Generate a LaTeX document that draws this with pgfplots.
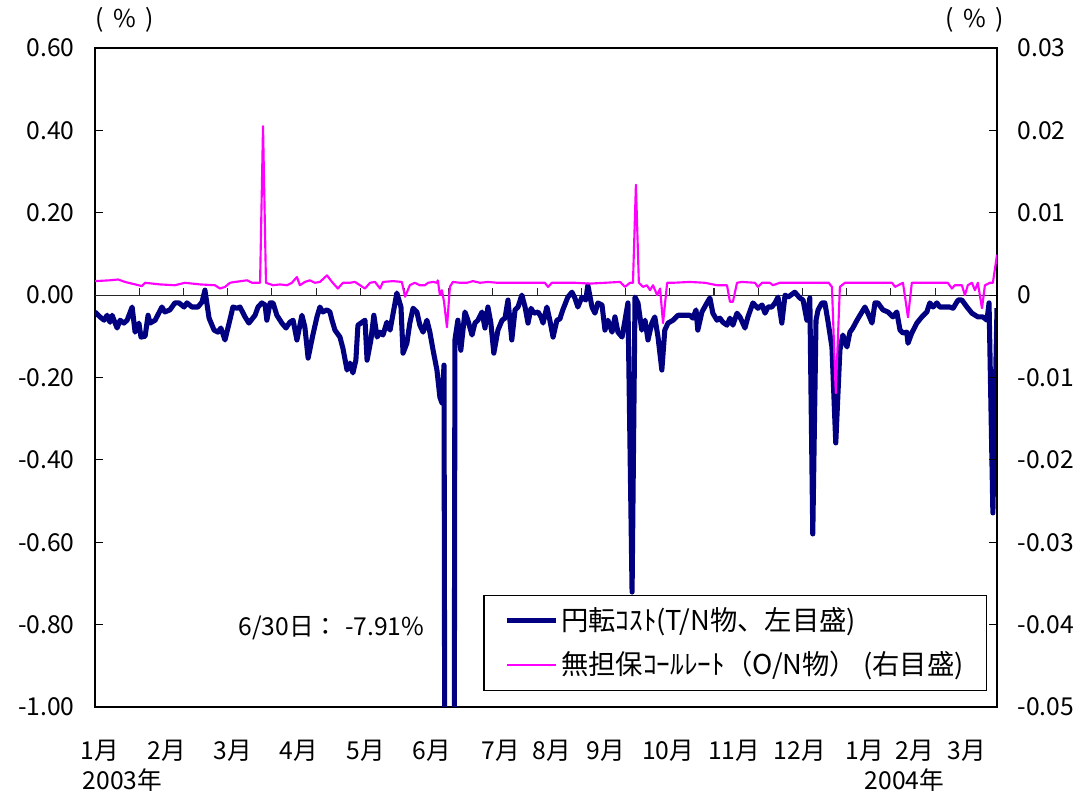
\documentclass[border=0pt]{standalone}
\usepackage{pgfplots}
\pgfplotsset{compat=1.18}
\usepackage{pgfplotstable}
\usepackage{fontspec}
\setmainfont{Noto Sans CJK JP}
\definecolor{navyc}{RGB}{0,0,128}
\definecolor{magc}{RGB}{255,0,255}
\pgfplotstableread{
x y
0 -0.041
1.7 -0.053
3.1 -0.061
4.1 -0.049
5.1 -0.066
5.8 -0.049
7.5 -0.080
8.5 -0.061
9.8 -0.068
10.9 -0.061
12.6 -0.029
13.6 -0.090
14.9 -0.068
15.6 -0.102
17.0 -0.100
18.0 -0.049
18.7 -0.068
20.4 -0.061
22.7 -0.029
23.7 -0.041
25.4 -0.036
27.1 -0.019
28.5 -0.019
30.2 -0.029
31.2 -0.019
32.9 -0.029
34.9 -0.029
36.3 -0.017
37.3 0.012
38.7 -0.056
40.4 -0.085
41.7 -0.090
42.7 -0.080
44.1 -0.109
45.5 -0.068
46.8 -0.029
48.2 -0.032
49.2 -0.029
50.9 -0.053
52.2 -0.068
54.3 -0.049
55.3 -0.029
56.6 -0.019
57.7 -0.024
58.3 -0.061
59.4 -0.019
60.4 -0.019
61.7 -0.049
63.4 -0.068
64.8 -0.080
66.1 -0.066
67.2 -0.061
68.5 -0.109
70.2 -0.049
71.2 -0.078
72.3 -0.153
73.9 -0.097
75.3 -0.053
76.3 -0.029
77.3 -0.041
78.7 -0.036
79.7 -0.041
80.4 -0.061
81.4 -0.085
83.1 -0.102
84.1 -0.129
85.5 -0.182
86.5 -0.165
87.5 -0.189
88.5 -0.158
89.2 -0.073
90.6 -0.066
91.6 -0.061
92.3 -0.158
93.6 -0.109
94.6 -0.049
95.7 -0.102
96.7 -0.090
97.7 -0.097
99.0 -0.066
100.1 -0.085
102.4 0.005
103.8 -0.029
104.5 -0.141
105.8 -0.117
106.8 -0.068
107.9 -0.032
109.2 -0.041
110.2 -0.073
111.3 -0.090
112.6 -0.061
113.6 -0.090
114.7 -0.134
116.0 -0.182
117.0 -0.248
117.7 -0.262
118.4 -0.170
120.4 -7.91
122.1 -0.109
123.1 -0.061
124.1 -0.134
125.5 -0.041
126.5 -0.061
127.9 -0.097
128.9 -0.068
129.9 -0.061
131.3 -0.041
132.3 -0.080
133.3 -0.029
134.3 -0.068
135.3 -0.141
136.7 -0.085
138.1 -0.061
139.1 -0.056
140.1 -0.012
141.4 -0.109
142.5 -0.036
143.5 -0.029
144.8 0.000
145.9 -0.029
146.9 -0.068
147.9 -0.032
148.9 -0.044
150.3 -0.041
151.3 -0.053
152.0 -0.068
153.3 -0.029
154.3 -0.061
155.4 -0.102
156.7 -0.061
157.7 -0.058
158.7 -0.036
160.4 -0.005
161.8 0.007
162.8 -0.007
163.8 -0.029
165.2 -0.005
166.5 -0.012
167.2 0.024
168.6 -0.029
169.6 -0.044
170.6 -0.019
172.0 -0.024
173.0 -0.085
174.0 -0.061
175.4 -0.090
176.4 -0.053
177.4 -0.090
178.8 -0.102
179.8 -0.061
180.8 -0.019
182.2 -0.721
183.2 -0.005
184.2 -0.019
185.5 -0.085
186.6 -0.061
187.6 -0.109
188.9 -0.068
189.9 -0.053
191.0 -0.102
192.3 -0.182
193.3 -0.085
194.4 -0.068
196.1 -0.061
197.8 -0.049
200.1 -0.049
201.8 -0.049
202.8 -0.056
203.9 -0.036
204.5 -0.085
205.9 -0.041
207.6 -0.019
208.6 -0.007
209.6 -0.044
211.0 -0.061
212.0 -0.056
213.0 -0.066
214.4 -0.073
215.4 -0.056
216.4 -0.073
217.8 -0.044
218.8 -0.053
220.5 -0.080
221.5 -0.053
223.2 -0.019
224.9 -0.032
226.3 -0.024
227.3 -0.044
228.3 -0.029
229.6 -0.029
230.7 -0.019
231.7 -0.005
233.0 -0.068
234.1 0.000
235.1 -0.005
237.4 0.007
239.1 -0.007
240.2 -0.012
241.5 -0.061
242.5 -0.007
243.5 -0.580
244.6 -0.061
245.3 -0.036
246.6 -0.019
247.6 -0.019
248.6 -0.061
250.0 -0.126
251.3 -0.359
252.7 -0.134
253.7 -0.097
255.1 -0.126
256.1 -0.090
257.1 -0.080
258.5 -0.061
259.5 -0.049
261.2 -0.029
262.2 -0.044
263.6 -0.068
264.6 -0.019
265.6 -0.019
267.3 -0.036
269.0 -0.041
270.7 -0.053
272.0 -0.041
273.1 -0.085
274.1 -0.092
275.4 -0.090
275.8 -0.117
277.1 -0.092
278.8 -0.068
280.5 -0.053
282.2 -0.041
283.2 -0.019
284.3 -0.029
285.6 -0.019
286.6 -0.029
288.3 -0.029
290.0 -0.029
291.1 -0.032
292.8 -0.012
294.1 -0.012
295.8 -0.029
297.5 -0.044
299.5 -0.053
301.2 -0.053
302.6 -0.061
303.3 -0.019
304.6 -0.529
306.0 -0.032
}\bluedata
\pgfplotstableread{
x y
0 0.0017
5.1 0.0018
7.8 0.0019
10.2 0.0016
13.6 0.0013
15.9 0.0011
17.0 0.0015
22.0 0.0013
27.1 0.0012
30.5 0.0015
35.6 0.0013
40.7 0.0012
42.4 0.0008
44.1 0.0010
45.8 0.0015
47.5 0.0016
51.6 0.0018
53.3 0.0015
56.0 0.0015
57.0 0.0205
58.0 0.0015
60.4 0.0012
62.8 0.0013
65.1 0.0012
66.8 0.0015
68.5 0.0022
69.5 0.0012
71.2 0.0016
72.9 0.0018
74.6 0.0015
76.3 0.0016
78.7 0.0024
80.4 0.0016
82.4 0.0008
84.1 0.0015
86.5 0.0015
88.2 0.0016
89.9 0.0012
91.6 0.0008
93.3 0.0015
95.0 0.0016
96.7 0.0008
97.7 0.0016
101.1 0.0017
104.1 0.0016
105.2 -0.0002
106.8 0.0012
108.5 0.0015
110.2 0.0012
111.9 0.0012
113.0 0.0015
114.7 0.0016
116.0 0.0015
116.3 0.0018
117.0 0.0000
117.7 0.0006
118.4 -0.0008
119.4 -0.0039
120.4 0.0010
121.4 0.0016
123.8 0.0015
126.2 0.0015
128.2 0.0017
130.6 0.0015
133.3 0.0016
136.4 0.0015
139.1 0.0015
141.8 0.0015
144.8 0.0015
147.6 0.0015
150.3 0.0015
152.6 0.0015
153.7 0.0010
155.0 0.0015
158.4 0.0015
162.8 0.0015
167.9 0.0014
173.0 0.0015
178.1 0.0016
179.8 0.0010
181.5 0.0015
182.5 0.0015
183.5 0.0134
184.5 0.0015
185.9 0.0010
187.2 0.0012
188.3 0.0006
189.3 0.0012
190.7 0.0000
191.7 0.0008
192.7 -0.0034
194.1 0.0015
196.1 0.0015
201.8 0.0016
206.9 0.0015
211.0 0.0012
214.4 0.0012
215.4 -0.0008
216.4 -0.0008
217.8 0.0015
219.5 0.0016
223.9 0.0015
224.9 0.0010
226.3 0.0015
228.9 0.0015
230.0 0.0012
232.3 0.0015
239.1 0.0015
245.9 0.0015
248.9 0.0015
250.0 0.0010
251.3 -0.0119
252.7 0.0010
254.4 0.0015
259.5 0.0015
266.3 0.0015
270.4 0.0015
271.4 0.0010
274.1 0.0015
275.8 -0.0027
277.1 0.0015
283.2 0.0015
289.3 0.0015
290.7 0.0008
291.7 0.0012
294.1 0.0012
295.1 0.0000
296.1 0.0012
297.5 0.0015
298.5 0.0006
299.5 0.0015
300.9 -0.0016
301.9 0.0012
303.6 0.0015
304.6 0.0015
306.0 0.0049
}\pinkdata
\begin{document}
\fontsize{18.5}{22}\selectfont
\begin{tikzpicture}
\useasboundingbox (-71.25pt,-68.25pt) rectangle (744.75pt,530.25pt);
\begin{axis}[name=main, at={(0,0)}, anchor=south west,
  scale only axis, width=676.5pt, height=494.25pt,
  xmin=0, xmax=306, ymin=-1, ymax=0.6,
  ytick={-1,-0.8,-0.6,-0.4,-0.2,0,0.2,0.4,0.6},
  yticklabels={-1.00,-0.80,-0.60,-0.40,-0.20,0.00,0.20,0.40,0.60},
  xtick={1.7,24.4,46.8,69.2,91.9,114.3,137.7,155.0,173.3,194.4,216.8,239.1,261.2,278.2,295.8},
  xticklabels={1月,2月,3月,4月,5月,6月,7月,8月,9月,10月,11月,12月,1月,2月,3月},
  x tick style={draw=none},
  ytick pos=left,
  tick align=inside, major tick length=6pt,
  y tick style={line width=0.8pt, black},
  axis line style={line width=1pt},
  yticklabel style={xshift=-9pt},
  xticklabel style={yshift=-18.5pt},
  /pgf/number format/assume math mode=true,
  clip=true,
]
\draw[line width=0.8pt, black!85] (axis cs:0,0) -- (axis cs:306,0);
\pgfplotsinvokeforeach{15,30,...,300}{\draw[line width=0.8pt, black!85] (axis cs:#1,0) -- ([yshift=5pt]axis cs:#1,0);}
\addplot[navyc, line width=3.8pt, line join=round] table[x=x,y=y]{\bluedata};
\node at (axis cs:80.2,-0.808) {6/30日：\hspace{5pt}-7.91\%};
\end{axis}
\begin{axis}[at={(0,0)}, anchor=south west,
  scale only axis, width=676.5pt, height=494.25pt,
  xmin=0, xmax=306, ymin=-0.05, ymax=0.03,
  axis x line=none, axis y line*=right,
  scaled y ticks=false,
  ytick={-0.05,-0.04,-0.03,-0.02,-0.01,0,0.01,0.02,0.03},
  yticklabels={-0.05,-0.04,-0.03,-0.02,-0.01,0,0.01,0.02,0.03},
  tick align=inside, major tick length=6pt,
  y tick style={line width=0.8pt, black},
  axis line style={line width=1pt, -},
  yticklabel style={xshift=9pt},
  /pgf/number format/assume math mode=true,
  legend cell align=left,
  legend image code/.code={\draw[#1] (0pt,0pt) -- (37pt,0pt);},
  legend style={at={(0.989,0.024)}, anchor=south east, draw=black, line width=0.8pt,
    fill=white, font=\fontsize{20.5}{24}\selectfont, inner xsep=15pt, inner ysep=7pt,
    row sep=9pt},
]
\addlegendimage{navyc, line width=3.8pt}
\addlegendentry{円転ｺｽﾄ(T/N物、左目盛)}
\addplot[magc, line width=1.6pt, line join=round] table[x=x,y=y]{\pinkdata};
\addlegendentry{無担保ｺｰﾙﾚｰﾄ（O/N物） (右目盛)}
\end{axis}
\node at ([xshift=22.5pt, yshift=21pt]main.north west) {(\hspace{7pt}\%\hspace{7pt})};
\node at ([xshift=-16.5pt, yshift=21pt]main.north east) {(\hspace{7pt}\%\hspace{7pt})};
\node[anchor=west] at ([xshift=-15.5pt, yshift=-54.75pt]main.south west) {2003年};
\node at ([xshift=607pt, yshift=-54.75pt]main.south west) {2004年};
\end{tikzpicture}
\end{document}
